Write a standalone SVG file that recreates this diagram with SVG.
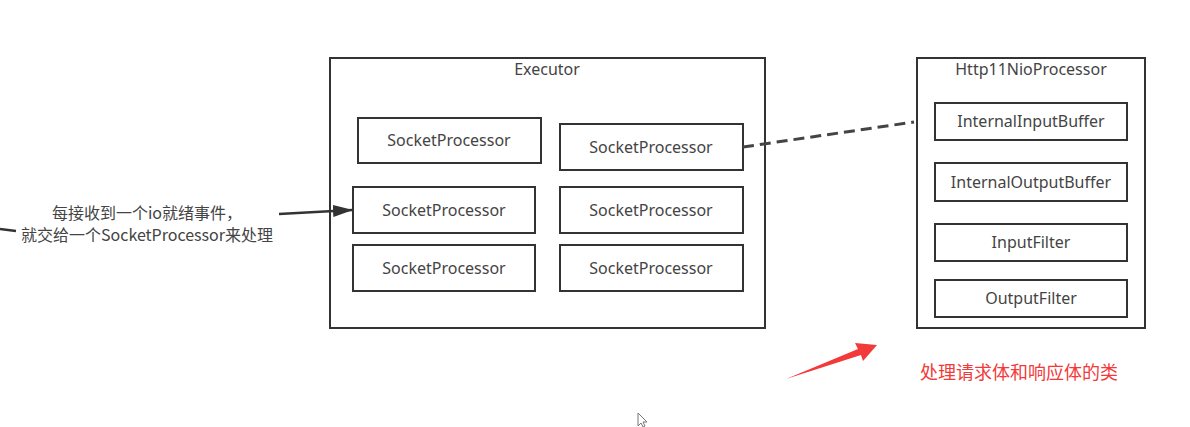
<svg xmlns="http://www.w3.org/2000/svg" width="1190" height="427" viewBox="0 0 1190 427">
<style>
.box{fill:#fff;stroke:#333;stroke-width:2}
.t{font-family:"Noto Sans","Liberation Sans","Noto Sans CJK SC",sans-serif;font-size:16px;fill:#444;text-anchor:middle}
.cn{font-family:"Noto Sans CJK SC","Noto Sans",sans-serif;font-size:16px;fill:#444;text-anchor:middle}
.red{font-family:"Noto Sans CJK SC",sans-serif;font-size:18px;fill:#f23a3a}
</style>
<defs>
<marker id="ah" markerWidth="20" markerHeight="12" refX="19" refY="6" orient="auto" markerUnits="userSpaceOnUse">
<path d="M0,0 L20,6 L0,12 Z" fill="#333"/>
</marker>
</defs>
<rect width="1190" height="427" fill="#fff"/>
<g id="executor">
<rect class="box" x="330" y="58" width="435" height="270"/>
<text class="t" x="547" y="75">Executor</text>
</g>
<g id="sp1"><rect class="box" x="358" y="118" width="183" height="45"/><text class="t" x="449" y="146">SocketProcessor</text></g>
<g id="sp2"><rect class="box" x="560" y="124" width="183" height="46"/><text class="t" x="651" y="153">SocketProcessor</text></g>
<g id="sp3"><rect class="box" x="353" y="187" width="182" height="46"/><text class="t" x="444" y="216">SocketProcessor</text></g>
<g id="sp4"><rect class="box" x="560" y="187" width="183" height="46"/><text class="t" x="651" y="216">SocketProcessor</text></g>
<g id="sp5"><rect class="box" x="353" y="245" width="182" height="46"/><text class="t" x="444" y="274">SocketProcessor</text></g>
<g id="sp6"><rect class="box" x="560" y="245" width="183" height="46"/><text class="t" x="651" y="274">SocketProcessor</text></g>
<g id="http11">
<rect class="box" x="917" y="58" width="228" height="270"/>
<text class="t" x="1031" y="75">Http11NioProcessor</text>
</g>
<g id="iib"><rect class="box" x="935" y="103" width="192" height="37"/><text class="t" x="1031" y="127">InternalInputBuffer</text></g>
<g id="iob"><rect class="box" x="935" y="163" width="192" height="38"/><text class="t" x="1031" y="188">InternalOutputBuffer</text></g>
<g id="if"><rect class="box" x="935" y="224" width="192" height="37"/><text class="t" x="1031" y="248">InputFilter</text></g>
<g id="of"><rect class="box" x="935" y="280" width="192" height="37"/><text class="t" x="1031" y="304">OutputFilter</text></g>
<g id="label-left">
<text class="cn" x="147" y="219">每接收到一个io就绪事件，</text>
<text class="cn" x="147" y="241">就交给一个SocketProcessor来处理</text>
</g>
<g id="connectors">
<line x1="279" y1="214" x2="352" y2="210" stroke="#333" stroke-width="2.5" marker-end="url(#ah)"/>
<line x1="0" y1="229" x2="16" y2="231" stroke="#333" stroke-width="2.5"/>
<line x1="743" y1="147" x2="914" y2="122" stroke="#444" stroke-width="3" stroke-dasharray="11,6"/>
</g>
<g id="red-note">
<path d="M786,379 L858,349 L855,343 L877,345 L863,361 L861,355 Z" fill="#f23a3a"/>
<text class="red" x="920" y="379">处理请求体和响应体的类</text>
</g>
<path d="M638,413 L638,426 L641,423 L643,427 L645,426 L643,422 L647,422 Z" fill="#fff" stroke="#777" stroke-width="1"/>
</svg>
